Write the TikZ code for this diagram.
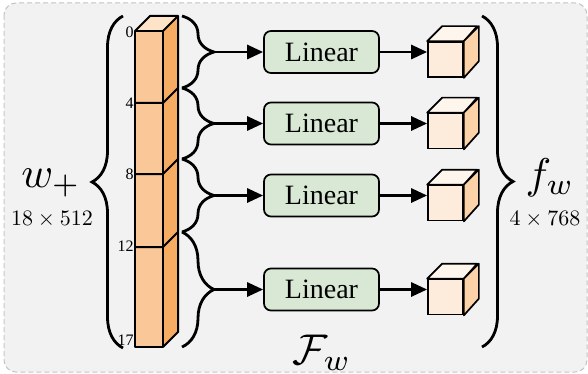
\documentclass[tikz,border=0pt]{standalone}
\usepackage{graphicx}
\usepackage{fontspec}
\setmainfont{Liberation Serif}
\usetikzlibrary{decorations.pathreplacing,arrows.meta}
\definecolor{bgfill}{HTML}{F2F2F2}
\definecolor{bgline}{HTML}{C4C4C4}
\definecolor{linfill}{HTML}{D9E8D5}
\definecolor{colfront}{HTML}{FAC898}
\definecolor{colside}{HTML}{F6AC62}
\definecolor{coltop}{HTML}{FDE3C8}
\definecolor{cubefront}{HTML}{FDEBDC}
\definecolor{cubetop}{HTML}{FEF5EC}
\definecolor{cubeside}{HTML}{FCD3A9}
\newcommand{\mybigmath}[1]{\scalebox{2.15}{$#1$}}
\newcommand{\mydimmath}[1]{\scalebox{1.1}{$#1$}}
\begin{document}
\begin{tikzpicture}[x=0.5pt,y=-0.5pt,
  linbox/.style={draw=black, line width=0.85pt, fill=linfill, rounded corners=3.5pt, minimum width=57.5pt, minimum height=21pt, inner sep=0pt, font=\fontsize{14}{16}\selectfont},
  cubeface/.style={draw=black, line width=0.85pt, fill=cubefront, minimum width=17.5pt, minimum height=17.5pt, inner sep=0pt},
  cubeedge/.style={draw=black, line width=0.85pt, line join=round},
  arr/.style={line width=1.4pt, -{Triangle[length=8pt,width=7pt]}},
  bigbrace/.style={decorate, decoration={brace, amplitude=15.5pt}, line width=1.4pt},
  smallbrace/.style={decorate, decoration={brace, amplitude=16pt}, line width=1.4pt},
  idx/.style={anchor=east, inner sep=0pt, font=\fontsize{8}{9}\selectfont},
  bigmath/.style={anchor=base, inner sep=0pt, font=\fontsize{10}{12}\selectfont},
  dimmath/.style={anchor=base, inner sep=0pt, font=\fontsize{10}{12}\selectfont},
  coledge/.style={draw=black, line width=1pt, line join=round}
]
% canvas and background
\path[use as bounding box] (0,0) rectangle (588,374);
\draw[bgline, dash pattern=on 2.5pt off 1.5pt, line width=0.5pt, fill=bgfill, rounded corners=6pt] (4,3) rectangle (587,372);

% column (18 x 512)
\fill[colfront] (135,31) rectangle (163,347);
\fill[colside] (163,31) -- (178,16) -- (178,332) -- (163,347) -- cycle;
\fill[coltop] (135,31) -- (150,16) -- (178,16) -- (163,31) -- cycle;
\draw[coledge] (135,31) rectangle (163,347);
\draw[coledge] (135,31) -- (150,16) -- (178,16) -- (163,31);
\draw[coledge] (178,16) -- (178,332) -- (163,347);
\foreach \yy in {103,174,247}{
  \draw[coledge] (135,\yy) -- (163,\yy) -- (178,\yy-15);
}
\node[idx] (i0) at (134,32) {0};
\node[idx] (i4) at (134,103) {4};
\node[idx] (i8) at (134,174) {8};
\node[idx] (i12) at (134,246) {12};
\node[idx] (i17) at (134,340) {17};

% brace coordinates
\coordinate (b0) at (182,16);
\coordinate (b1) at (182,88);
\coordinate (b2) at (182,159);
\coordinate (b3) at (182,232);
\coordinate (b4) at (182,347);
\draw[smallbrace] (b0) -- (b1);
\draw[smallbrace] (b1) -- (b2);
\draw[smallbrace] (b2) -- (b3);
\draw[smallbrace] (b3) -- (b4);

\foreach \i/\r in {1/52,2/123.5,3/195.5,4/289.5}{
  \coordinate (t\i) at (214,\r);
  \node[linbox] (lin\i) at (321.5,\r) {Linear};
  \node[cubeface] (cube\i) at (445.5,\r+7.5) {};
  \filldraw[cubeedge, fill=cubetop] (cube\i.north west) -- ++(15,-15) -- ++(35,0) -- (cube\i.north east) -- cycle;
  \filldraw[cubeedge, fill=cubeside] (cube\i.north east) -- ++(15,-15) -- ++(0,35) -- (cube\i.south east) -- cycle;
  \draw[arr] (t\i) -- (lin\i.west);
  \draw[arr] (lin\i.east) -- (lin\i.east -| cube\i.west);
}

% big braces
\draw[bigbrace] (123,348) -- (123,16);
\draw[bigbrace] (482,16) -- (482,347);

% labels
\node[bigmath] (wl) at (51,187) {\mybigmath{w_+}};
\node[dimmath] (wd) at (52,225) {\mydimmath{18\times512}};
\node[bigmath] (fl) at (550,188) {\mybigmath{f_w}};
\node[dimmath] (fd) at (545,225) {\mydimmath{4\times768}};
\node[bigmath] (Fl) at (322,364) {\mybigmath{\mathcal{F}_w}};
\end{tikzpicture}
\end{document}
